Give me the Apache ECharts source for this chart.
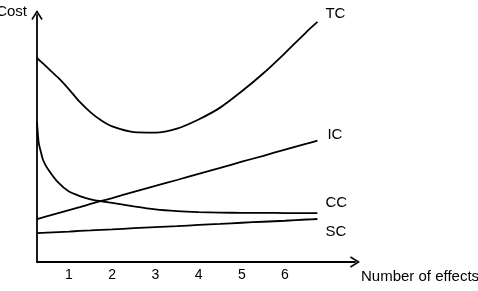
<!DOCTYPE html>
<html>
<head>
<meta charset="utf-8">
<script src="https://cdn.jsdelivr.net/npm/echarts@6/dist/echarts.min.js"></script>
<style>
  html, body { margin: 0; padding: 0; background: #fff; }
  #chart { width: 478px; height: 291px; }
</style>
</head>
<body>
<div id="chart"></div>
<script>
// number of effects (x) and cost curves
const xs = [0.26, 0.3, 0.35, 0.4, 0.5, 0.75, 1, 1.25, 1.5, 1.75, 2, 2.5, 3, 3.5, 4, 4.5, 5, 5.5, 6, 6.5, 6.75];
const tc = [82.6, 81.9, 81.1, 80.4, 78.7, 74.6, 69.9, 64.8, 60.6, 57.3, 54.9, 52.6, 52.4, 54.0, 57.7, 62.5, 69.1, 76.4, 84.6, 93.2, 97.2];
const ic = [17.4, 17.6, 17.8, 18.1, 18.6, 19.8, 21.0, 22.2, 23.5, 24.7, 25.9, 28.4, 30.8, 33.2, 35.7, 38.1, 40.6, 43.0, 45.5, 47.9, 49.1];
const cc = [56.7, 48.2, 44.5, 41.3, 38.0, 32.2, 28.5, 26.7, 25.4, 24.6, 23.9, 22.5, 21.3, 20.6, 20.2, 20.0, 19.9, 19.9, 19.8, 19.8, 19.8];
const sc = [11.7, 11.7, 11.8, 11.8, 11.9, 12.1, 12.3, 12.6, 12.8, 13.0, 13.2, 13.7, 14.1, 14.5, 15.0, 15.4, 15.9, 16.3, 16.7, 17.2, 17.4];
const tickLabels = [1, 2, 3, 4, 5, 6];

const font = "Liberation Sans, Arial, sans-serif";
const arrow = "path://M5,0 L10,8 L8.8,8.8 L5,2.6 L1.2,8.8 L0,8 Z";

function pairs(vals) {
  return xs.map((x, i) => [x, vals[i]]);
}

function curve(name, vals, offset) {
  return {
    name: name,
    type: "line",
    data: pairs(vals),
    smooth: 0.25,
    showSymbol: false,
    lineStyle: { color: "#000", width: 1.8 },
    endLabel: {
      show: true,
      formatter: name,
      color: "#000",
      fontFamily: font,
      fontSize: 15,
      offset: offset,
    },
  };
}

const chart = echarts.init(document.getElementById("chart"));
chart.setOption({
  animation: false,
  grid: { left: 37, right: 123, top: 15, bottom: 29, outerBoundsMode: "none" },
  xAxis: {
    type: "value",
    min: 0.26,
    max: 7.62,
    name: "Number of effects",
    nameLocation: "end",
    nameGap: 6,
    nameTextStyle: {
      color: "#000",
      fontFamily: font,
      fontSize: 15,
      verticalAlign: "top",
      padding: [7, 0, 0, 0],
    },
    axisLine: {
      lineStyle: { color: "#000", width: 1.8 },
      symbol: ["none", arrow],
      symbolSize: [12, 10],
    },
    axisTick: { show: false },
    splitLine: { show: false },
    axisLabel: {
      customValues: tickLabels,
      color: "#000",
      fontFamily: font,
      fontSize: 14,
      margin: 6,
    },
  },
  yAxis: {
    type: "value",
    min: 0,
    max: 100,
    name: "Cost",
    nameLocation: "end",
    nameGap: 0,
    nameTextStyle: {
      color: "#000",
      fontFamily: font,
      fontSize: 15,
      align: "right",
      verticalAlign: "bottom",
      padding: [0, 10, -4, 0],
    },
    axisLine: {
      show: true,
      lineStyle: { color: "#000", width: 1.8 },
      symbol: ["none", arrow],
      symbolSize: [12, 10],
    },
    axisTick: { show: false },
    axisLabel: { show: false },
    splitLine: { show: false },
  },
  series: [
    curve("TC", tc, [0, -8]),
    curve("IC", ic, [2, -6]),
    curve("CC", cc, [0, -10]),
    curve("SC", sc, [0, 13]),
  ],
});
</script>
</body>
</html>
